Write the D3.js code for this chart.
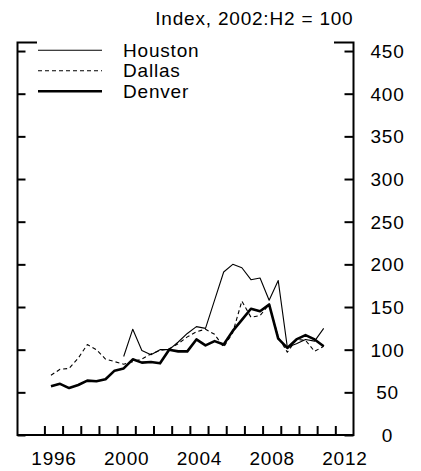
<!DOCTYPE html>
<html>
<head>
<meta charset="utf-8">
<script src="https://cdn.jsdelivr.net/npm/d3@7"></script>
<style>
  body { margin: 0; background: #fff; }
  text { font-family: "Liberation Sans", Arial, sans-serif; }
</style>
</head>
<body>
<svg id="chart"></svg>
<script>
// half-year periods, 1996:H1 .. 2011:H1
var periods = ["1996:H1","1996:H2","1997:H1","1997:H2","1998:H1","1998:H2","1999:H1","1999:H2",
  "2000:H1","2000:H2","2001:H1","2001:H2","2002:H1","2002:H2","2003:H1","2003:H2",
  "2004:H1","2004:H2","2005:H1","2005:H2","2006:H1","2006:H2","2007:H1","2007:H2",
  "2008:H1","2008:H2","2009:H1","2009:H2","2010:H1","2010:H2","2011:H1"]

var houston = [null,null,null,null,null,null,null,null,
  92,124,99,94,100,100,109,119,127,125,158,191,200,196,182,184,158,181,103,107,112,110,125]
var dallas = [70,77,78,90,106,100,89,86,83,86,89,95,99,101,107,115,121,124,118,103,
  120,157,138,140,153,115,97,112,111,98,104]
var denver = [57,60,55,58.6,63.7,63,65.3,75.4,78,88.7,84.8,85.5,84,100,98,98,112,105,110,106,
  122,135,148,145,153,113,102,112,117,112,104]

var series = [
  {name:"Houston", values:houston, width:1.1, dash:null},
  {name:"Dallas", values:dallas, width:1.1, dash:"4,3"},
  {name:"Denver", values:denver, width:2.6, dash:null}
]

var yearTicks = d3.range(1996, 2013)
var yearLabels = [1996, 2000, 2004, 2008, 2012]
var yTicks = d3.range(0, 451, 50)

var width = 421, height = 471
// (window.top is taken, so the frame edges get their own names)
var frameLeft = 17.5, frameRight = 353.5, frameTop = 42.5, frameBottom = 435

var svg = d3.select("#chart")
    .attr("width", width)
    .attr("height", height)

var x = d3.scaleLinear().domain([1994.52, 2013]).range([frameLeft, frameRight])
var y = d3.scaleLinear().domain([0, 460]).range([frameBottom, frameTop])

// a period's point sits a bit past the start of its half-year
function periodTime(p) {
  var parts = p.split(":H")
  return +parts[0] + (+parts[1] - 1) * 0.5 + 0.36
}

var fontSize = "19px", spacing = "0.8px"

// frame
svg.append("rect")
   .attr("x", frameLeft).attr("y", frameTop)
   .attr("width", frameRight - frameLeft).attr("height", frameBottom - frameTop)
   .attr("fill", "none")
   .attr("stroke", "#000")
   .attr("stroke-width", 2)

// left ticks, pointing inward
var leftAxis = svg.append("g")
   .attr("transform", `translate(${frameLeft},0)`)
   .call(d3.axisLeft(y).tickValues(yTicks).tickSizeInner(-8).tickSizeOuter(0).tickFormat(""))
leftAxis.select(".domain").remove()

// right ticks inward, labels outside
var rightAxis = svg.append("g")
   .attr("transform", `translate(${frameRight},0)`)
   .call(d3.axisRight(y).tickValues(yTicks).tickSizeInner(-9).tickSizeOuter(0).tickPadding(34))
rightAxis.select(".domain").remove()
rightAxis.selectAll("text")
   .attr("text-anchor", "middle")
   .attr("dy", "0.34em")

// bottom ticks every year
var bottomAxis = svg.append("g")
   .attr("transform", `translate(0,${frameBottom})`)
   .call(d3.axisBottom(x).tickValues(yearTicks).tickSizeInner(-9).tickSizeOuter(0).tickFormat(""))
bottomAxis.select(".domain").remove()

// year labels centred in their year
var labelAxis = svg.append("g")
   .attr("transform", `translate(0,${frameBottom})`)
   .call(d3.axisBottom(x).tickValues(yearLabels.map(d => d + 0.5)).tickSize(0).tickPadding(16.5)
           .tickFormat(d => Math.floor(d)))
labelAxis.select(".domain").remove()

svg.selectAll(".tick line")
   .attr("stroke", "#000")
   .attr("stroke-width", 2)
svg.selectAll(".tick text")
   .attr("fill", "#000")
   .attr("font-size", fontSize)
   .attr("font-family", "Liberation Sans, Arial, sans-serif")
   .style("letter-spacing", spacing)

// lines
var line = d3.line()
   .defined(d => d.v != null)
   .x(d => x(d.t))
   .y(d => y(d.v))

svg.selectAll(".series")
   .data(series)
   .enter()
   .append("path")
   .classed("series", true)
   .attr("fill", "none")
   .attr("stroke", "#000")
   .attr("stroke-width", d => d.width)
   .attr("stroke-dasharray", d => d.dash)
   .attr("stroke-linejoin", "round")
   .attr("d", d => line(periods.map((p, i) => ({t: periodTime(p), v: d.values[i]}))))

// legend, boxed in white over the top of the frame
var legend = svg.append("g")
legend.append("rect")
   .attr("x", 37).attr("y", 40)
   .attr("width", 297).attr("height", 62)
   .attr("fill", "#fff")

var legendItems = legend.selectAll(".item")
   .data(series)
   .enter()
   .append("g")
   .classed("item", true)
   .attr("transform", (d, i) => `translate(0,${56.5 + i * 20.5})`)

legendItems.append("line")
   .attr("x1", 38).attr("x2", 102)
   .attr("y1", -6.3).attr("y2", -6.3)
   .attr("stroke", "#000")
   .attr("stroke-width", d => d.width)
   .attr("stroke-dasharray", d => d.dash)

legendItems.append("text")
   .attr("x", 123)
   .attr("font-size", fontSize)
   .style("letter-spacing", spacing)
   .text(d => d.name)

svg.append("text")
   .attr("x", frameRight)
   .attr("y", 25)
   .attr("text-anchor", "end")
   .attr("font-size", fontSize)
   .style("letter-spacing", spacing)
   .text("Index, 2002:H2 = 100")
</script>
</body>
</html>
